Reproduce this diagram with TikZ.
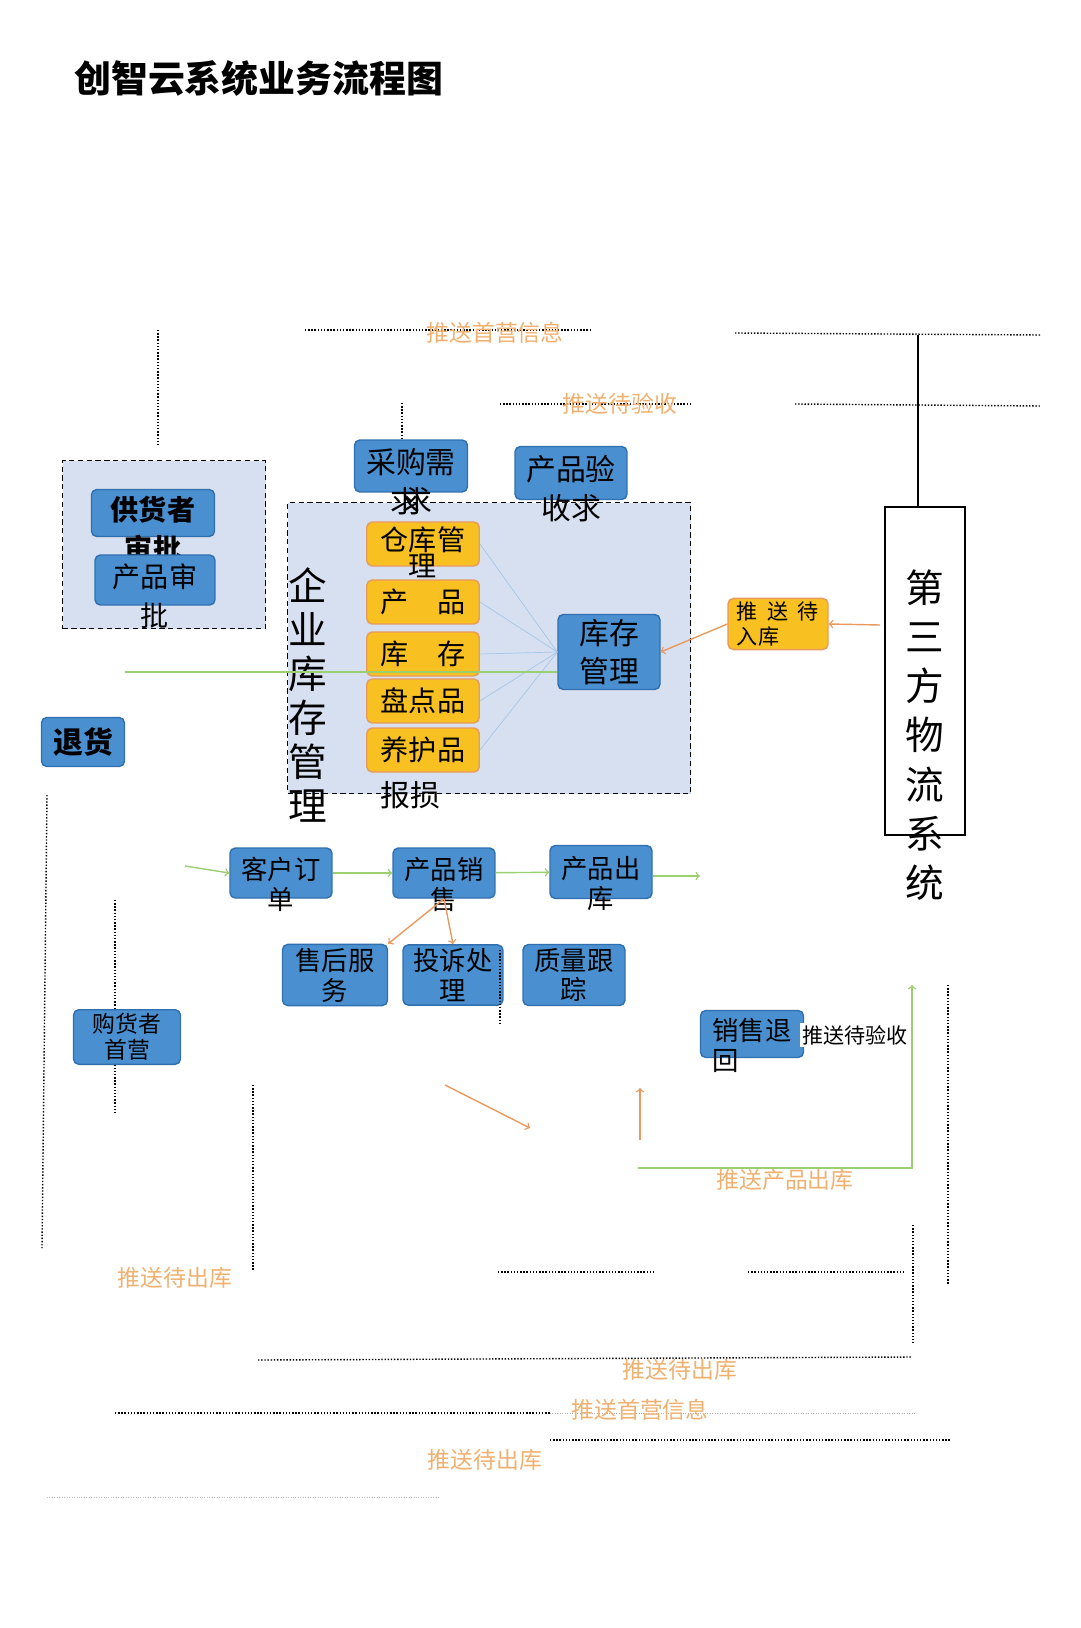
\documentclass[tikz,border=0pt]{standalone}
\usepackage{fontspec}
\setmainfont{Noto Sans CJK SC}
\definecolor{boxblue}{HTML}{4A90D0}
\definecolor{boxedge}{HTML}{2F6FAF}
\definecolor{areablue}{HTML}{D6E0F0}
\definecolor{pushorange}{HTML}{F0B070}
\definecolor{arroworange}{HTML}{E89A60}
\definecolor{flowgreen}{HTML}{9AD070}
\definecolor{boxyellow}{HTML}{F8C020}
\def\px{0.02cm}
\newcommand\hang[2]{\vtop{\halign{\hfil##\hfil\cr #1\cr #2\cr}}}

\begin{document}
\begin{tikzpicture}[x=\px,y=-\px,
    unit/.style={rectangle,rounded corners=3pt,draw=boxedge,fill=boxblue,thick,
      font=\fontsize{15}{17}\selectfont,text=black,inner sep=2pt,align=center},
    task/.style={rectangle,rounded corners=3pt,draw=arroworange,fill=boxyellow,thick,
      font=\fontsize{16}{17}\selectfont,inner sep=2pt,minimum width=2.25cm,minimum height=0.88cm},
    spill/.style={text height=#1,text depth=0.1cm},
    area/.style={rectangle,draw,densely dashed,thick,fill=areablue},
    note/.style={font=\fontsize{13}{14}\selectfont,text=pushorange},
    sep/.style={densely dotted,thick},
    go/.style={->,flowgreen,thick},
    back/.style={->,arroworange,thick}]
    \useasboundingbox (0,0) rectangle (1080,1628);

    \node (title) [anchor=west,font=\fontsize{21}{24}\selectfont\bfseries] at (68,78) {创智云系统业务流程图};

    % separators at the top
    \draw[sep] (305,330) -- (590,330);
    \draw[sep] (735,333) -- (1040,335);
    \draw[sep] (500,404) -- (690,404);
    \draw[sep] (795,404) -- (1040,406);
    \draw[sep] (158,330) -- (158,445);
    \draw[sep] (402,403) -- (402,440);
    \node (n1) [note] at (495,333) {推送首营信息};
    \node (n2) [note] at (620,404) {推送待验收};

    % supplier area
    \node (sup) [area,minimum width=4.06cm,minimum height=3.36cm,anchor=north west] at (62,460) {};
    \node (s1) [unit,minimum width=2.46cm,minimum height=0.94cm,spill=0.4cm,font=\fontsize{16}{22}\selectfont\bfseries] at (153,513) {\hang{供货者}{审批}};
    \node (s2) [unit,minimum width=2.4cm,minimum height=1cm,spill=0.4cm,font=\fontsize{16}{22}\selectfont] at (155,580) {\hang{产品审}{批}};

    % warehouse area
    \node (wh) [area,minimum width=8.06cm,minimum height=5.82cm,anchor=north west] at (287,502) {};
    \node (whl) [font=\fontsize{22}{25}\selectfont,align=center] at (308,695) {企\\业\\库\\存\\管\\理};
    \node (buy) [unit,minimum width=2.26cm,minimum height=1.04cm,spill=0.4cm,font=\fontsize{17}{22}\selectfont] at (411,466) {\hang{采购需}{求\kern-0.6em 求}};
    \node (chk) [unit,minimum width=2.24cm,minimum height=1.06cm,spill=0.4cm,font=\fontsize{17}{22}\selectfont] at (571,473) {\hang{产品验}{收求}};
    \node (y1) [task,spill=0.35cm,font=\fontsize{16}{15}\selectfont] at (423,544) {\hang{仓库管}{理}};
    \node (y2) [task] at (423,602) {产\quad 品};
    \node (y3) [task] at (423,654) {库\quad 存};
    \node (y4) [task] at (423,701) {盘点品};
    \node (y5) [task] at (423,750) {养护品};
    \node (loss) [font=\fontsize{17}{18}\selectfont] at (410,795) {报损};
    \node (stock) [unit,minimum width=2.04cm,minimum height=1.5cm,font=\fontsize{17}{22}\selectfont] at (609,652) {库存\\管理};
    \foreach \y in {y1,y2,y3,y4,y5}
      \draw[boxblue!50,thin] (\y.east) -- (stock.west);

    % third party
    \node (tp) [draw,thick,fill=white,minimum width=1.6cm,minimum height=6.56cm] at (925,671) {};
    \node (tpl) [font=\fontsize{22}{28}\selectfont,align=center] at (925,735) {第\\三\\方\\物\\流\\系\\统};
    \coordinate (tptop) at (918,335);
    \draw[thick] (tptop) -- (tptop |- tp.north);
    \node (in) [task,minimum width=2cm,minimum height=0.96cm,font=\fontsize{12}{14}\selectfont,
      align=left] at (778,624) {推\ \ 送\ \ 待\\入库};
    \coordinate (tpin) at (880,625);
    \draw[back] (tpin) -- (in.east);
    \draw[back] (in.west) -- (stock.east);
    \coordinate (gl) at (125,672);
    \draw[flowgreen,thick] (gl) -- (stock.west |- gl);

    \node (ret) [unit,minimum width=1.66cm,minimum height=0.98cm,font=\fontsize{17}{18}\selectfont\bfseries] at (83,742) {退货};
    \draw[sep] (47,795) -- (42,1248);

    % sales flow
    \coordinate (o0) at (185,866);
    \coordinate (o4) at (700,876);
    \node (order) [unit,minimum width=2.04cm,minimum height=1cm,spill=0.35cm] at (281,873) {\hang{客户订}{单}};
    \node (sale) [unit,minimum width=2.04cm,minimum height=1cm,spill=0.35cm] at (444,873) {\hang{产品销}{售}};
    \node (out) [unit,minimum width=2.04cm,minimum height=1.06cm,spill=0.35cm] at (601,872) {\hang{产品出}{库}};
    \draw[go] (o0) -- (order.west);
    \draw[go] (order) -- (sale);
    \draw[go] (sale) -- (out);
    \draw[go] (out.east |- o4) -- (o4);

    \node (svc) [unit,minimum width=2.1cm,minimum height=1.1cm] at (335,975) {售后服\\务};
    \node (cmp) [unit,minimum width=2cm,minimum height=1.1cm] at (453,975) {投诉处\\理};
    \node (qa) [unit,minimum width=2.04cm,minimum height=1.1cm] at (574,975) {质量跟\\踪};
    \draw[back] (sale.south) -- (svc.north east);
    \draw[back] (sale.south) -- (cmp.north);

    \draw[sep] (500,950) -- (500,1025);
    \draw[sep] (115,900) -- (115,1115);
    \draw[sep] (253,1085) -- (253,1270);
    \draw[sep] (948,985) -- (948,1285);
    \draw[sep] (913,1225) -- (913,1345);

    \node (cust) [unit,minimum width=2.14cm,minimum height=1cm,
      font=\fontsize{13}{15}\selectfont] at (127,1037) {购货者\\首营};
    \node (sret) [unit,minimum width=2.06cm,minimum height=0.94cm,spill=0.35cm] at (752,1034) {\hang{销售退}{回\hfill}};
    \node (sn) [anchor=west,font=\fontsize{12}{13}\selectfont,fill=white,inner sep=1pt] at (800,1035) {推送待验收};

    \coordinate (a1) at (445,1085);
    \coordinate (a2) at (530,1128);
    \draw[back] (a1) -- (a2);
    \coordinate (b1) at (640,1140);
    \coordinate (b2) at (640,1088);
    \draw[back] (b1) -- (b2);
    \coordinate (g1) at (638,1168);
    \coordinate (g2) at (912,1168);
    \coordinate (g3) at (912,985);
    \draw[go] (g1) -- (g2) -- (g3);
    \node (n3) [note] at (785,1180) {推送产品出库};

    % separators at the bottom
    \node (n4) [note] at (175,1278) {推送待出库};
    \draw[sep] (498,1272) -- (655,1272);
    \draw[sep] (748,1272) -- (905,1272);
    \draw[sep] (258,1360) -- (912,1357);
    \node (n5) [note] at (680,1370) {推送待出库};
    \draw[sep] (115,1413) -- (550,1413);
    \draw[densely dotted,gray!60] (550,1413) -- (915,1413);
    \node (n6) [note] at (640,1410) {推送首营信息};
    \draw[sep] (550,1440) -- (950,1440);
    \node (n7) [note] at (485,1460) {推送待出库};
    \draw[densely dotted,gray!50] (47,1497) -- (440,1497);
\end{tikzpicture}
\end{document}
